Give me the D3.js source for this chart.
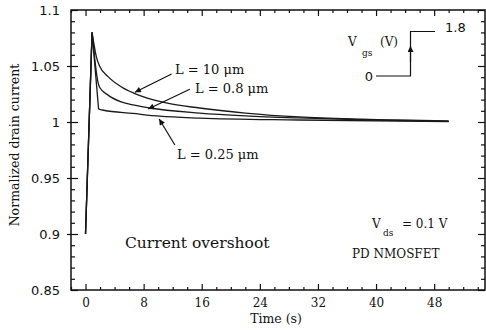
<!DOCTYPE html>
<html>
<head>
<meta charset="utf-8">
<script src="https://cdn.jsdelivr.net/npm/d3@7"></script>
<style>
  body { margin: 0; background: #fff; }
  svg { display: block; }
</style>
</head>
<body>
<div id="chart"></div>
<script>
// data: time (s) and normalized drain current
const time10 = [0, 0.9, 1.5, 1.93, 3.1, 4.9, 6.7, 11.1, 15.7, 22, 29.4, 38, 50];
const curr10 = [0.9, 1.08, 1.058, 1.050, 1.0405, 1.0315, 1.0256, 1.017, 1.0125, 1.008, 1.0045, 1.0025, 1.001];

const time08 = [0, 0.9, 1.7, 1.93, 3.1, 4.9, 6.7, 8.8, 15.7, 22, 29.4, 38, 50];
const curr08 = [0.9, 1.08, 1.036, 1.031, 1.024, 1.018, 1.015, 1.0125, 1.008, 1.0055, 1.0036, 1.002, 1.0005];

const time025 = [0, 0.9, 1.8, 2.5, 6.5, 10.2, 15.7, 29.4, 50];
const curr025 = [0.9, 1.08, 1.0115, 1.0105, 1.0077, 1.0052, 1.0035, 1.0018, 1.0003];

const xMajor = [0, 8, 16, 24, 32, 40, 48];
const yMajor = [0.85, 0.9, 0.95, 1, 1.05, 1.1];

const W = 486, H = 330;
const mLeft = 71, mRight = 485, mTop = 10, mBottom = 290;

const svg = d3.select("#chart").append("svg")
    .attr("width", W)
    .attr("height", H);

const x = d3.scaleLinear().domain([-2, 55]).range([mLeft, mRight]);
const y = d3.scaleLinear().domain([0.85, 1.1]).range([mBottom, mTop]);

const xMinor = d3.range(-2, 55.01, 2).filter(d => !xMajor.includes(d));
const yMinor = d3.range(0.85, 1.1001, 0.01).map(d => +d.toFixed(2)).filter(d => !yMajor.includes(d));

const serif = "'DejaVu Serif', serif";
const sans = "'DejaVu Sans', sans-serif";

function styleAxis(g) {
    g.select(".domain").remove();
    g.selectAll(".tick line").attr("stroke", "#111").attr("stroke-width", 1.2);
    g.selectAll("text").attr("fill", "#111");
}

// bottom axis
svg.append("g")
    .attr("transform", `translate(0,${mBottom})`)
    .call(d3.axisBottom(x).tickValues(xMinor).tickSize(-3).tickFormat(""))
    .call(styleAxis);
svg.append("g")
    .attr("transform", `translate(0,${mBottom})`)
    .call(d3.axisBottom(x).tickValues(xMajor).tickSize(-6).tickPadding(8))
    .call(styleAxis)
    .selectAll("text")
    .style("font-family", serif)
    .style("font-size", "12px");

// top axis
svg.append("g")
    .attr("transform", `translate(0,${mTop})`)
    .call(d3.axisTop(x).tickValues(xMinor).tickSize(-3).tickFormat(""))
    .call(styleAxis);
svg.append("g")
    .attr("transform", `translate(0,${mTop})`)
    .call(d3.axisTop(x).tickValues(xMajor).tickSize(-6).tickFormat(""))
    .call(styleAxis);

// left axis
svg.append("g")
    .attr("transform", `translate(${mLeft},0)`)
    .call(d3.axisLeft(y).tickValues(yMinor).tickSize(-4).tickFormat(""))
    .call(styleAxis);
svg.append("g")
    .attr("transform", `translate(${mLeft},0)`)
    .call(d3.axisLeft(y).tickValues(yMajor).tickSize(-7).tickPadding(11).tickFormat(d3.format("")))
    .call(styleAxis)
    .selectAll("text")
    .style("font-family", sans)
    .style("font-size", "13px");
svg.append("g")
    .attr("transform", `translate(${mLeft},0)`)
    .call(d3.axisLeft(y).tickValues(yMajor.slice(1, -1)).tickSize(4).tickFormat(""))
    .call(styleAxis);

// right axis
svg.append("g")
    .attr("transform", `translate(${mRight},0)`)
    .call(d3.axisRight(y).tickValues(yMinor).tickSize(-4).tickFormat(""))
    .call(styleAxis);
svg.append("g")
    .attr("transform", `translate(${mRight},0)`)
    .call(d3.axisRight(y).tickValues(yMajor).tickSize(-7).tickFormat(""))
    .call(styleAxis);

// frame
svg.append("rect")
    .attr("x", mLeft).attr("y", mTop)
    .attr("width", mRight - mLeft).attr("height", mBottom - mTop)
    .attr("fill", "none")
    .attr("stroke", "#111")
    .attr("stroke-width", 1.5);

// curves: straight up to the kink, smooth decay after it
function drawSeries(ts, vs, k) {
    const pts = ts.map((t, i) => [x(t), y(vs[i])]);
    svg.append("path")
        .attr("d", d3.line()(pts.slice(0, k + 1)))
        .attr("fill", "none").attr("stroke", "#1a1a1a").attr("stroke-width", 1.3);
    svg.append("path")
        .attr("d", d3.line().curve(d3.curveMonotoneX)(pts.slice(k)))
        .attr("fill", "none").attr("stroke", "#1a1a1a").attr("stroke-width", 1.3);
}
drawSeries(time10, curr10, 1);
drawSeries(time08, curr08, 1);
drawSeries(time025, curr025, 2);

// arrow marker
svg.append("defs").append("marker")
    .attr("id", "arr")
    .attr("viewBox", "0 0 10 10")
    .attr("refX", 10).attr("refY", 5)
    .attr("markerWidth", 9).attr("markerHeight", 6)
    .attr("markerUnits", "userSpaceOnUse")
    .attr("orient", "auto")
    .append("path")
    .attr("d", "M0,0L10,5L0,10z")
    .attr("fill", "#111");

function arrow(t0, v0, t1, v1) {
    svg.append("line")
        .attr("x1", x(t0)).attr("y1", y(v0))
        .attr("x2", x(t1)).attr("y2", y(v1))
        .attr("stroke", "#111").attr("stroke-width", 1.2)
        .attr("marker-end", "url(#arr)");
}
arrow(11.85, 1.0429, 6.8, 1.0265);
arrow(14.36, 1.0292, 8.63, 1.0116);
arrow(12.3, 0.9795, 10.14, 1.0027);

function label(px, py, txt, size, fam) {
    return svg.append("text")
        .attr("x", px).attr("y", py)
        .style("font-family", fam || serif)
        .style("font-size", size + "px")
        .attr("fill", "#111")
        .text(txt);
}
label(175, 74, "L = 10 μm", 13);
label(195, 93, "L = 0.8 μm", 13);
label(177, 159, "L = 0.25 μm", 13);
label(125, 248, "Current overshoot", 15.5);

// Vds annotation
label(372, 228, "V", 12);
label(383, 236, "ds", 9);
label(402, 228, "= 0.1 V", 12);
label(352, 258, "PD NMOSFET", 12);

// Vgs step inset
label(348, 46, "V", 12);
label(362, 56, "gs", 9);
label(380, 46, "(V)", 12);
label(373, 81, "0", 13, sans).attr("text-anchor", "end");
label(445, 32, "1.8", 13, sans);
svg.append("path")
    .attr("d", "M376,76H410.5V31.5H435")
    .attr("fill", "none").attr("stroke", "#111").attr("stroke-width", 1.2);
svg.append("line")
    .attr("x1", 410.5).attr("y1", 62).attr("x2", 410.5).attr("y2", 46)
    .attr("stroke", "#111").attr("stroke-width", 1.2)
    .attr("marker-end", "url(#arr)");

// axis titles
svg.append("text")
    .attr("transform", `translate(19,${(mTop + mBottom) / 2 - 5}) rotate(-90)`)
    .attr("text-anchor", "middle")
    .style("font-family", serif)
    .style("font-size", "12.5px")
    .attr("fill", "#111")
    .text("Normalized drain current");
svg.append("text")
    .attr("x", 276).attr("y", 323)
    .attr("text-anchor", "middle")
    .style("font-family", serif)
    .style("font-size", "12.5px")
    .attr("fill", "#111")
    .text("Time (s)");
</script>
</body>
</html>
